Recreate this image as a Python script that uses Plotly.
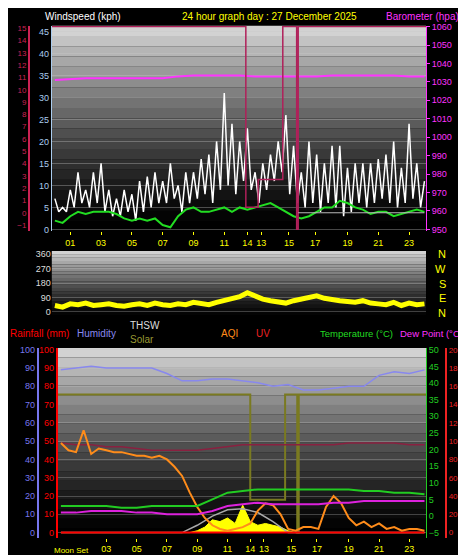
import plotly.graph_objects as go

# ---- data ----
hour_ticks = [1, 3, 5, 7, 9, 11, 12.5, 13.4, 15.2, 16.9, 19, 21, 23]
hour_labels = ["01", "03", "05", "07", "09", "11", "14", "13", "15", "17", "19", "21", "23"]

# wind gust, quarter hourly (kph)
wind_gust = [7, 4, 5, 4, 9, 5, 13, 6, 9, 5, 13, 6, 15, 4, 9, 3, 7, 3, 9, 4, 8, 2, 11, 4,
             12, 5, 13, 6, 11, 6, 15, 7, 10, 4, 13, 6, 13, 7, 16, 8, 17, 6, 20, 9, 31, 10, 24, 8,
             20, 11, 23, 9, 13, 6, 15, 9, 17, 11, 20, 13, 26, 8, 19, 6, 13, 5, 20, 6, 17, 4, 15, 6,
             19, 5, 19, 3, 14, 4, 15, 6, 15, 5, 15, 6, 16, 7, 17, 6, 20, 5, 14, 6, 24, 7, 15, 5, 11]
# wind average, half hourly (kph)
wind_avg = [2, 1.5, 3, 4, 3.5, 4, 4, 4, 3.5, 2.5, 2, 2.5, 2, 2.5, 1, 0.5, 3, 4.5, 5, 4, 4, 4.5, 5, 4, 5,
            4.5, 5, 5.5, 6, 5, 4, 3, 2.5, 3, 4, 5, 5, 6.5, 6, 5, 4.5, 3.5, 4, 4, 3, 3.5, 4, 4.5, 4]
# barometer, hourly (hpa)
baro = [1031, 1031.5, 1032, 1032, 1032, 1032, 1032, 1032, 1033, 1033.5, 1033.5, 1033.5, 1033.5,
        1033, 1033, 1033, 1033, 1033, 1033.5, 1033.5, 1033.5, 1033.5, 1033.5, 1033, 1033]
step_x = [-0.2, 12.4, 12.4, 13.2, 13.2, 14.8, 14.8, 15.7, 15.7, 15.8, 15.8, 24.1]
step_y = [1060, 1060, 962, 962, 977, 977, 1060, 1060, 950, 950, 1060, 1060]
# wind direction, half hourly (deg)
wind_dir = [40, 30, 50, 45, 55, 40, 45, 50, 40, 35, 45, 50, 40, 55, 45, 40, 50, 45, 60, 55, 45, 60, 70, 80,
            95, 120, 100, 80, 70, 60, 55, 70, 80, 90, 100, 85, 75, 70, 65, 60, 70, 55, 50, 45, 60, 40, 55, 45, 50]

# bottom panel, hourly
humidity = [89, 90, 91, 90, 90, 90, 90, 87, 83, 83, 84, 84, 83, 82, 80, 81, 78, 78, 79, 80, 80, 86, 88, 87, 89]
temperature = [3, 3, 3, 3, 2.5, 2.5, 3, 3, 3, 3, 5, 7, 7.5, 8, 8, 8, 8, 8, 8, 8, 7.5, 7.5, 7, 7, 6.5]
dew_point = [1, 1, 1.5, 1.5, 1.5, 1, 1, 0.5, 0.5, 0.5, 1.5, 3, 3.5, 4, 3.5, 3.5, 3.5, 3.5, 4, 4, 4.5, 4.5, 4.5, 4.5, 4.5]
maroon = [49, 48, 48, 47, 47, 46, 45, 45, 45, 45, 46, 47, 48, 48, 48, 48, 48, 48, 48, 49, 49, 49, 49, 48, 48]
thsw = [0, 0, 0, 0, 0, 0, 0, 0, 0, 4, 9, 12.5, 13, 11, 6, 0, 0, 0, 0, 0, 0, 0, 0, 0, 0]
rain = [0] * 25
# AQI, half hourly
aqi = [49, 45, 44, 56, 43, 46, 45, 44, 44, 43, 42, 42, 41, 42, 40, 36, 31, 22, 14, 8, 4, 2, 1, 2, 3,
       5, 12, 16, 15, 10, 2, 1, 3, 3, 2, 14, 20, 16, 8, 4, 6, 3, 5, 2, 3, 1, 2, 2, 1]
# solar, half hourly (humidity scale)
solar = [0] * 18 + [1, 3, 7, 6, 8, 5, 15, 6, 4, 5, 4, 3, 1] + [0] * 18
solar_step_x = [-0.2, 12.5, 12.5, 14.8, 14.8, 15.6, 15.6, 15.7, 15.7, 24.1]
solar_step_y = [75.5, 75.5, 18, 18, 75.5, 75.5, 0, 0, 75.5, 75.5]

t_q = [i * 0.25 for i in range(len(wind_gust))]
t_h = [i * 0.5 for i in range(len(wind_avg))]
t_1 = list(range(25))


def line(x, y, color, width, xa, ya, **kw):
    return go.Scatter(x=x, y=y, mode="lines", line=dict(color=color, width=width),
                      xaxis=xa, yaxis=ya, hoverinfo="skip", **kw)


fig = go.Figure()
fig.add_trace(line(t_q, wind_gust, "white", 1.5, "x", "y"))
fig.add_trace(line(t_h, wind_avg, "#22dd22", 2, "x", "y"))
fig.add_trace(line(t_1, baro, "#ff33ff", 2, "x", "y2"))
fig.add_trace(line(step_x, step_y, "#b0205a", 1.5, "x", "y2"))
fig.add_trace(line([15.8, 24], [959, 959], "#bbbbbb", 1, "x", "y2"))

fig.add_trace(line(t_h, wind_dir, "yellow", 5, "x2", "y3"))

fig.add_trace(line(t_h, solar, "yellow", 1, "x3", "y4", fill="tozeroy", fillcolor="yellow"))
fig.add_trace(line(solar_step_x, solar_step_y, "#7a7a20", 2, "x3", "y4"))
fig.add_trace(line(t_1, humidity, "#8888ee", 1.5, "x3", "y4"))
fig.add_trace(line(t_1, maroon, "#8a2040", 1.5, "x3", "y4"))
fig.add_trace(line(t_1, thsw, "#aaaaaa", 1.5, "x3", "y4"))
fig.add_trace(line(t_1, rain, "red", 2, "x3", "y4"))
fig.add_trace(line(t_h, aqi, "#ff8c1a", 2, "x3", "y4"))
fig.add_trace(line(t_1, temperature, "#22cc22", 2, "x3", "y5"))
fig.add_trace(line(t_1, dew_point, "#dd22dd", 2, "x3", "y5"))
# invisible traces so the extra scale axes are drawn
for xa, ya in [("x", "y7"), ("x3", "y6"), ("x3", "y8")]:
    fig.add_trace(go.Scatter(x=[0], y=[0], mode="lines", opacity=0, xaxis=xa, yaxis=ya, hoverinfo="skip"))

# gray gradient backgrounds
shapes = []
for xr, yr in [("x", "y"), ("x2", "y3"), ("x3", "y4")]:
    n = 20
    for i in range(n):
        g = int(210 * (i / (n - 1)) ** 1.3)
        shapes.append(dict(type="rect", xref=xr + " domain", yref=yr + " domain", x0=0, x1=1,
                           y0=i / n, y1=(i + 1) / n, line_width=0, layer="below",
                           fillcolor="rgb(%d,%d,%d)" % (g, g, g)))

tick = dict(size=9, family="Liberation Sans")
xcommon = dict(range=[-0.2, 24.1], tickvals=hour_ticks, ticktext=hour_labels, showgrid=False,
               tickfont=dict(tick, color="yellow"), ticks="outside", ticklen=3, tickcolor="yellow", zeroline=False)

fig.update_layout(
    width=466, height=555, margin=dict(l=0, r=0, t=0, b=0),
    paper_bgcolor="black", plot_bgcolor="black", showlegend=False, shapes=shapes,
    font=dict(family="Liberation Sans", size=11),
    xaxis=dict(xcommon, domain=[0.094, 0.897], anchor="y"),
    xaxis2=dict(xcommon, domain=[0.094, 0.897], anchor="y3", showticklabels=False, ticks=""),
    xaxis3=dict(xcommon, domain=[0.107, 0.897], anchor="y4", tickvals=hour_ticks[1:], ticktext=hour_labels[1:]),
    yaxis=dict(domain=[0.600, 0.975], range=[-0.4, 46.3], dtick=5, tickfont=dict(tick, color="#aaccee"),
               gridcolor="rgba(200,200,200,0.35)", zeroline=False, showline=True, linecolor="#aaccee", anchor="x"),
    yaxis2=dict(overlaying="y", side="right", range=[949, 1060.5], dtick=10, anchor="x",
                tickfont=dict(tick, color="#ff33ff"), showgrid=False, showline=True, linecolor="#ff33ff",
                ticks="outside", ticklen=3, tickcolor="#ff33ff"),
    yaxis7=dict(overlaying="y", side="left", position=0.045, range=[-1.5, 15.2], dtick=1, anchor="free",
                tickfont=dict(size=8, color="#cc2255"), showgrid=False, zeroline=False, showline=True,
                linecolor="#cc2255", linewidth=2),
    yaxis3=dict(domain=[0.441, 0.564], range=[-40, 380], tickvals=[0, 90, 180, 270, 360], anchor="x2",
                tickfont=dict(tick, color="#dddddd"), gridcolor="rgba(200,200,200,0.3)", zeroline=False),
    yaxis4=dict(domain=[0.041, 0.387], range=[-2.7, 101], dtick=10, anchor="x3",
                tickfont=dict(tick, color="red"), gridcolor="rgba(200,200,200,0.3)", zeroline=False,
                showline=True, linecolor="red", linewidth=2),
    yaxis8=dict(overlaying="y4", side="left", position=0.064, range=[-2.7, 101], dtick=10, anchor="free",
                tickfont=dict(tick, color="#7777ee"), showgrid=False, zeroline=False, showline=True,
                linecolor="#7777ee", linewidth=2),
    yaxis5=dict(overlaying="y4", side="right", range=[-6.5, 50.6], dtick=5, anchor="x3",
                tickfont=dict(tick, color="#22cc22"), showgrid=False, zeroline=False, showline=True, linecolor="#22cc22"),
    yaxis6=dict(overlaying="y4", side="right", position=0.94, range=[-5.4, 202], dtick=20, anchor="free",
                tickfont=dict(size=8, color="#ee2222"), showgrid=False, zeroline=False, showline=True,
                linecolor="#ee2222", linewidth=2),
)

ann = [
    ("Windspeed (kph)", 35, 5, "white", 10),
    ("24 hour graph day : 27 December 2025", 172, 5, "yellow", 10),
    ("Barometer (hpa)", 376, 5, "#ff33ff", 10),
    ("Rainfall (mm)", 0, 326, "red", 10),
    ("Humidity", 67, 326, "#8888ee", 10),
    ("THSW", 120, 318, "#dddddd", 10),
    ("Solar", 120, 332, "#999933", 10),
    ("AQI", 211, 326, "#ff8c1a", 10),
    ("UV", 246, 326, "#ee2222", 10),
    ("Temperature (°C)", 310, 326, "#22dd22", 9.5),
    ("Dew Point (°C)", 390, 326, "#ff33ff", 9.5),
    ("Moon Set", 44, 545, "yellow", 8),
]
for text, x, y, c, s in ann:
    fig.add_annotation(text=text, x=x / 466, y=1 - y / 555, xref="paper", yref="paper", showarrow=False,
                       xanchor="left", yanchor="middle", font=dict(color=c, size=s))
for i, d in enumerate(["N", "W", "S", "E", "N"]):
    fig.add_annotation(text=d, x=440 / 466, y=1 - (245 + i * 15) / 555, xref="paper", yref="paper",
                       showarrow=False, font=dict(color="yellow", size=11))

fig.write_html("out.html")
